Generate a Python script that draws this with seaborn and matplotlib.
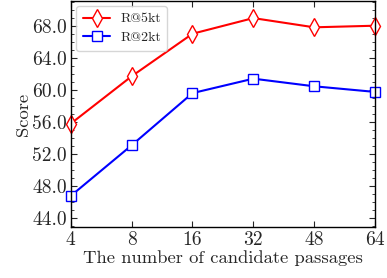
import matplotlib
matplotlib.use("Agg")
import matplotlib.pyplot as plt
import pandas as pd
import seaborn as sns
from matplotlib.ticker import MultipleLocator

# Valores
passages = ["4", "8", "16", "32", "48", "64"]
r5kt = [55.8, 61.7, 67.0, 68.95, 67.8, 68.0]
r2kt = [46.8, 53.1, 59.6, 61.4, 60.45, 59.75]

sns.set_style("ticks")
plt.rcParams["font.family"] = ["cmr10", "DejaVu Sans"]
plt.rcParams["mathtext.fontset"] = "cm"
plt.rcParams["axes.formatter.use_mathtext"] = True

pos = list(range(len(passages)))
df = pd.DataFrame({
    "pos": pos * 2,
    "score": r5kt + r2kt,
    "series": ["R@5kt"] * len(pos) + ["R@2kt"] * len(pos),
})

fig = plt.figure(figsize=(3.87, 2.78), dpi=100)
ax = fig.add_axes([0.183, 0.183, 0.786, 0.814])

sns.lineplot(data=df[df.series == "R@5kt"], x="pos", y="score", ax=ax,
             color="red", marker="d", markersize=9, markerfacecolor="white",
             markeredgecolor="red", markeredgewidth=1.0, linewidth=1.5,
             label="R@5kt", clip_on=False)
sns.lineplot(data=df[df.series == "R@2kt"], x="pos", y="score", ax=ax,
             color="blue", marker="s", markersize=7, markerfacecolor="white",
             markeredgecolor="blue", markeredgewidth=1.0, linewidth=1.5,
             label="R@2kt", clip_on=False)

ax.set_xlim(0, 5)
ax.set_ylim(42.9, 71.1)
ax.set_xticks(pos)
ax.set_xticklabels(passages)
ax.set_yticks([44, 48, 52, 56, 60, 64, 68])
ax.set_yticklabels([f"{v:.1f}" for v in [44, 48, 52, 56, 60, 64, 68]])
ax.yaxis.set_minor_locator(MultipleLocator(1))
ax.tick_params(which="both", direction="in", top=True, right=True, labelsize=14)
ax.tick_params(which="major", length=4, pad=3)
ax.tick_params(which="minor", length=2)
for s in ax.spines.values():
    s.set_linewidth(1.0)
    s.set_color("black")

ax.set_xlabel("The number of candidate passages", fontsize=13.4, labelpad=1)
ax.set_ylabel("Score", fontsize=13.4, labelpad=1)
ax.legend(loc="upper left", fontsize=10, handlelength=2.0, handletextpad=0.7,
          borderpad=0.45, labelspacing=0.45, borderaxespad=0.4, frameon=True)

fig.savefig("out.png", dpi=100)
